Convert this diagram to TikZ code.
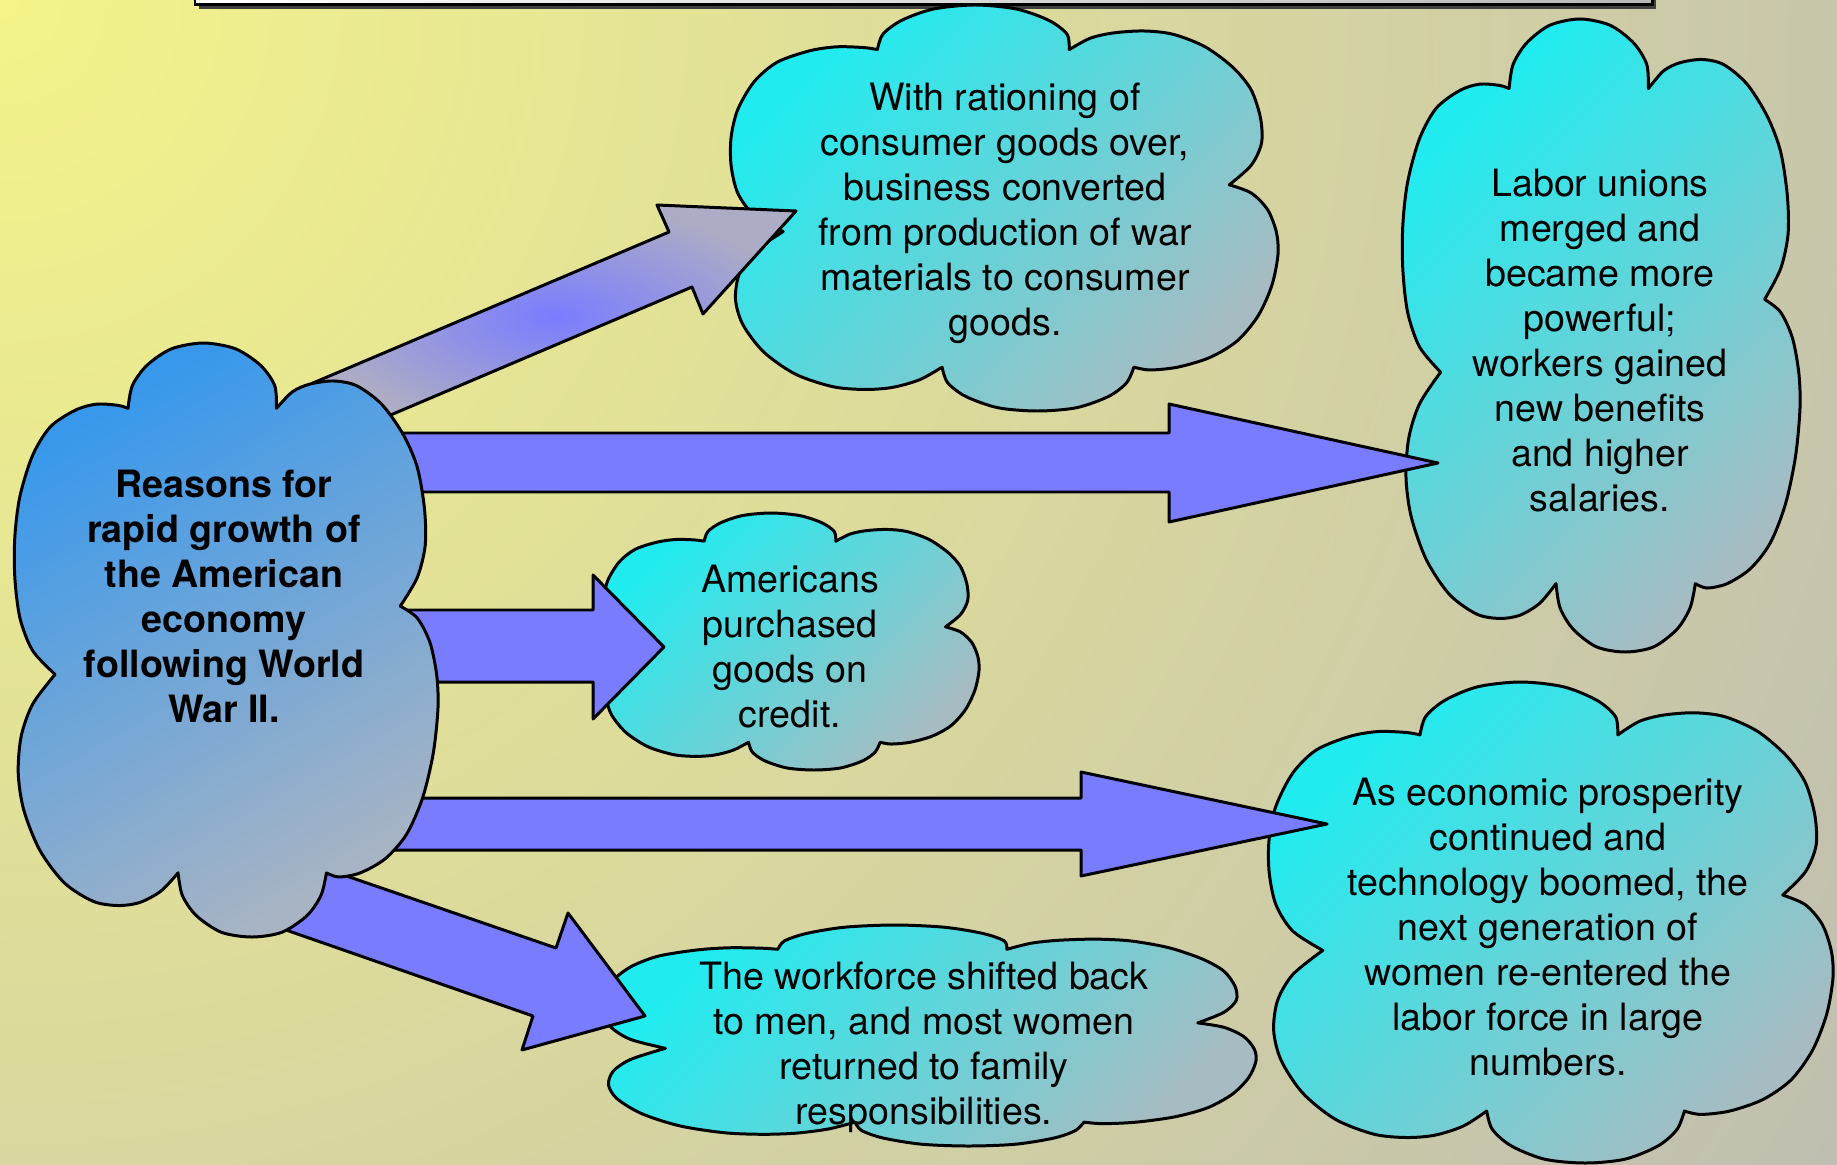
\documentclass[tikz,border=0pt]{standalone}
\usepackage{fontspec}
\setmainfont{TeX Gyre Heros}
\definecolor{arrowblue}{RGB}{122,124,255}
\definecolor{arrowgray}{RGB}{172,172,198}
\definecolor{cyanA}{RGB}{32,236,240}
\definecolor{grayA}{RGB}{166,188,194}
\definecolor{blueA}{RGB}{56,152,236}
\definecolor{grayB}{RGB}{168,180,196}
\definecolor{bgA}{RGB}{244,244,138}
\definecolor{bgB}{RGB}{190,188,178}
\newcommand\drawcloud[5]{%
  \begin{scope}[shift={(#1,#2)},xscale=#3,yscale=#4]
  \path[#5] (0.269,0.110)
   -- plot[smooth] coordinates {(0.269,0.110) (0.279,0.072) (0.313,0.038) (0.371,0.010) (0.447,0.0) (0.523,0.010) (0.582,0.038) (0.615,0.072) (0.619,0.110)}
   -- plot[smooth] coordinates {(0.619,0.110) (0.657,0.082) (0.699,0.069) (0.754,0.064) (0.808,0.072) (0.867,0.103) (0.918,0.154) (0.951,0.209) (0.968,0.278) (0.970,0.340) (0.951,0.395) (0.911,0.443)}
   -- plot[smooth] coordinates {(0.911,0.443) (0.951,0.463) (0.981,0.504) (0.997,0.559) (1.0,0.614) (0.989,0.690) (0.964,0.765) (0.926,0.827) (0.876,0.868) (0.817,0.892) (0.766,0.899) (0.737,0.892)}
   -- plot[smooth] coordinates {(0.737,0.892) (0.724,0.930) (0.691,0.964) (0.632,0.992) (0.561,1.0) (0.489,0.992) (0.430,0.964) (0.397,0.930) (0.387,0.892)}
   -- plot[smooth] coordinates {(0.387,0.892) (0.346,0.923) (0.296,0.942) (0.245,0.947) (0.187,0.940) (0.119,0.909) (0.061,0.854) (0.023,0.786) (0.010,0.724) (0.017,0.662) (0.044,0.608) (0.097,0.558)}
   -- plot[smooth] coordinates {(0.097,0.558) (0.044,0.518) (0.014,0.463) (0.002,0.395) (0.002,0.326) (0.014,0.258) (0.044,0.189) (0.086,0.141) (0.145,0.113) (0.195,0.103) (0.245,0.105) (0.269,0.110)}
   -- cycle;
  \end{scope}}
\tikzset{
  outline/.style={draw=black,line width=0.85pt,line join=round},
  targetcloud/.style={outline,top color=cyanA,bottom color=grayA,shading angle=45},
  sourcecloud/.style={outline,top color=blueA,bottom color=grayB,shading angle=30},
  blockarrow/.style={outline,fill=arrowblue},
  txt/.style={align=center,inner sep=0pt,font=\fontsize{10.7}{12.8}\selectfont},
}
\begin{document}
\begin{tikzpicture}[x=0.01cm,y=-0.01cm]
\useasboundingbox (0,0) rectangle (1837,1164);
\begin{scope}
\clip (0,0) rectangle (1837,1164);
\shade[inner color=bgA,outer color=bgB] (0,0) circle (22.5cm);
% title box
\fill[black!75] (199,-60) rectangle (1656,9);
\path[draw=black,line width=0.85pt,left color=white,right color=black!28] (195,-60) rectangle (1652,5);
% target clouds
\drawcloud{730}{5}{548}{406}{targetcloud}
\drawcloud{1402}{19}{398}{633}{targetcloud}
\drawcloud{603}{513}{376}{257}{targetcloud}
\drawcloud{602}{925}{654}{221}{targetcloud}
\drawcloud{1268}{682}{565}{481}{targetcloud}
% arrows
\path[outline,shading=radial,inner color=arrowblue,outer color=arrowgray]
  (313,383) -- (669,232) -- (657,205) -- (796,211) -- (703,314) -- (692,287) -- (360,428) -- cycle;
\path[blockarrow] (380,433) -- (1169,433) -- (1169,404) -- (1438,463) -- (1169,522) -- (1169,492) -- (380,492) -- cycle;
\path[blockarrow] (380,610) -- (593,610) -- (593,575) -- (664,647) -- (593,719) -- (593,682) -- (380,682) -- cycle;
\path[blockarrow] (360,798) -- (1081,798) -- (1081,772) -- (1327,824) -- (1081,876) -- (1081,850) -- (360,850) -- cycle;
\path[blockarrow] (300,860) -- (556,948) -- (568,913) -- (645,1016) -- (522,1050) -- (533,1016) -- (240,914) -- cycle;
% source cloud
\drawcloud{14}{343}{424}{594}{sourcecloud}
% texts
\node[txt,font=\fontsize{10.7}{12.8}\selectfont\bfseries] (reasons) at (224,596) {Reasons for\\rapid growth of\\the American\\economy\\following World\\War II.};
\node[txt] (rationing) at (1005,213) {With rationing of\\consumer goods over,\\business converted\\from production of war\\materials to consumer\\goods.};
\node[txt] (labor) at (1600,341) {Labor unions\\merged and\\became more\\powerful;\\workers gained\\new benefits\\and higher\\salaries.};
\node[txt] (credit) at (790,647) {Americans\\purchased\\goods on\\credit.};
\node[txt] (prosperity) at (1548,927) {As economic prosperity\\continued and\\technology boomed, the\\next generation of\\women re-entered the\\labor force in large\\numbers.};
\node[txt] (workforce) at (924,1047) {The workforce shifted back\\to men, and most women\\returned to family\\responsibilities.};
\end{scope}
\end{tikzpicture}
\end{document}
